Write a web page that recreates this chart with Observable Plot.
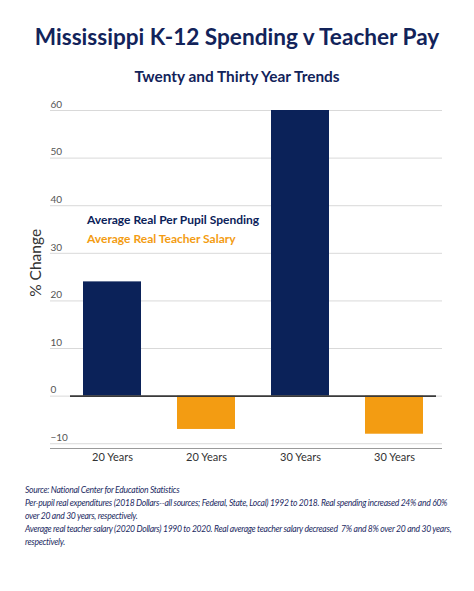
<!DOCTYPE html>
<html>
<head>
<meta charset="utf-8">
<script src="https://cdn.jsdelivr.net/npm/d3@7"></script>
<script src="https://cdn.jsdelivr.net/npm/@observablehq/plot@0.6"></script>
<style>
  html, body { margin: 0; padding: 0; background: #fff; }
  #wrap { position: relative; width: 474px; height: 591px; font-family: Lato, "Open Sans", sans-serif; }
  #title { position: absolute; top: 23px; left: 0; width: 474px; text-align: center; font-size: 22.6px; font-weight: 700; color: #12235a; white-space: nowrap; }
  #subtitle { position: absolute; top: 67px; left: 0; width: 474px; text-align: center; font-size: 15.4px; font-weight: 700; color: #12235a; white-space: nowrap; }
  #chart { position: absolute; top: 96px; left: 0; }
  #legend { position: absolute; top: 210px; left: 87px; font-size: 12px; font-weight: 700; line-height: 19px; white-space: nowrap; }
  #caption { position: absolute; top: 484px; left: 25px; font-size: 8.6px; font-style: italic; color: #1d2b63; line-height: 13px; white-space: nowrap; letter-spacing: -0.3px; }
</style>
</head>
<body>
<div id="wrap">
  <div id="title"></div>
  <div id="subtitle"></div>
  <div id="chart"></div>
  <div id="legend"></div>
  <div id="caption"></div>
</div>
<script>
const titleText = "Mississippi K-12 Spending v Teacher Pay";
const subtitleText = "Twenty and Thirty Year Trends";
const xLabels = ["20 Years", "20 Years", "30 Years", "30 Years"];
const series = ["Average Real Per Pupil Spending", "Average Real Teacher Salary", "Average Real Per Pupil Spending", "Average Real Teacher Salary"];
const values = [24, -7, 60, -8];
const seriesNames = ["Average Real Per Pupil Spending", "Average Real Teacher Salary"];
const seriesColors = ["#0b2259", "#f39c12"];
const yTicks = [-10, 0, 10, 20, 30, 40, 50, 60];
const yDomain = [-11, 60];
const yLabel = "% Change";
const yLabelAt = 28;
const captionLines = [
  "Source: National Center for Education Statistics",
  "Per-pupil real expenditures (2018 Dollars--all sources; Federal, State, Local) 1992 to 2018. Real spending increased 24% and 60%",
  "over 20 and 30 years, respectively.",
  "Average real teacher salary (2020 Dollars) 1990 to 2020. Real average teacher salary decreased&nbsp; 7% and 8% over 20 and 30 years,",
  "respectively."
];

document.getElementById("title").textContent = titleText;
document.getElementById("subtitle").textContent = subtitleText;
document.getElementById("legend").innerHTML = seriesNames.map((s, i) => `<div style="color:${seriesColors[i]}">${s}</div>`).join("");
document.getElementById("caption").innerHTML = captionLines.join("<br>");

const data = values.map((v, i) => ({idx: i, label: xLabels[i], series: series[i], value: v}));

const chart = Plot.plot({
  width: 474,
  height: 376,
  marginTop: 14,
  marginLeft: 50,
  marginRight: 32,
  marginBottom: 24,
  style: {fontFamily: "Lato, 'Open Sans', sans-serif", background: "transparent"},
  x: {type: "band", domain: d3.range(values.length), paddingInner: 0.384, paddingOuter: 0.192, insetLeft: 14, label: null},
  y: {domain: yDomain, label: null},
  color: {domain: seriesNames, range: seriesColors},
  marks: [
    Plot.gridY(yTicks, {stroke: "#d9d9d9", strokeOpacity: 1, strokeWidth: 1}),
    Plot.ruleY([yDomain[0]], {stroke: "#9a9a9a", strokeWidth: 1.2}),
    Plot.axisY(yTicks, {tickSize: 0, tickPadding: 0, textAnchor: "start", dx: 0, dy: -6, fontSize: 10, fill: "#555", label: null}),
    Plot.axisX({tickSize: 0, tickPadding: 5, tickFormat: (d) => xLabels[d], fontSize: 11, fill: "#333", label: null}),
    Plot.barY(data, {x: "idx", y: "value", fill: "series"}),
    Plot.ruleY([0], {stroke: "#3a3a3a", strokeWidth: 1.6, insetLeft: 20, insetRight: 6}),
    Plot.text([yLabel], {y: [yLabelAt], frameAnchor: "left", textAnchor: "middle", dx: -14, rotate: -90, text: (d) => d, fontSize: 15.5, fill: "#333"})
  ]
});
document.getElementById("chart").appendChild(chart);
</script>
</body>
</html>
